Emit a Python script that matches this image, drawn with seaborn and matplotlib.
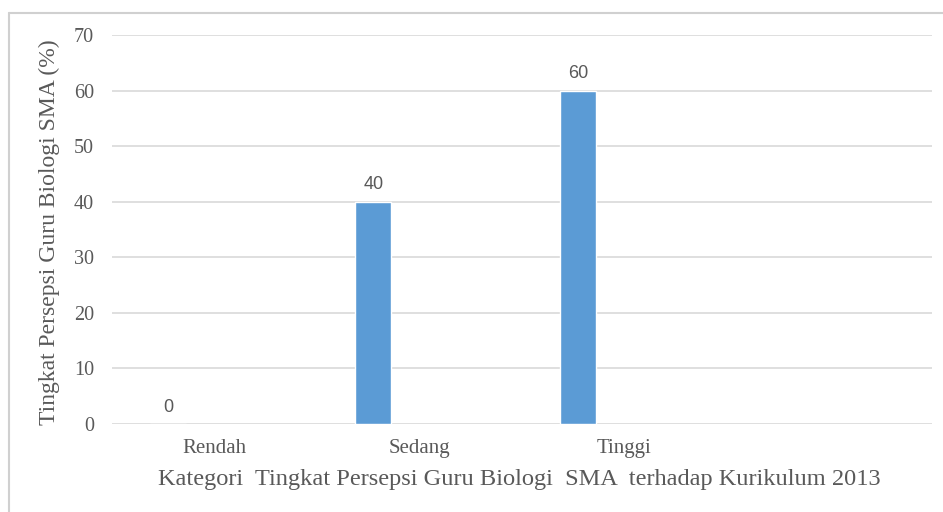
import numpy as np
import pandas as pd

import seaborn as sns
from matplotlib import pyplot as plt
from matplotlib.lines import Line2D

KATEGORI = ["Rendah", "Sedang", "Tinggi", ""]
PERSEN = [0, 40, 60, np.nan]
SERI = ["Persentase", "Kosong"]
Y_TICKS = [0, 10, 20, 30, 40, 50, 60, 70]

BLUE = "#5B9BD5"
GREY_TXT = "#595959"


def plot():
    sns.set_theme(style="white")
    plt.rcParams["font.family"] = ["Liberation Serif", "DejaVu Serif"]

    tab = pd.DataFrame(
        {
            "Kategori": KATEGORI + KATEGORI,
            "Nilai": PERSEN + [np.nan] * len(KATEGORI),
            "Seri": [SERI[0]] * len(KATEGORI) + [SERI[1]] * len(KATEGORI),
        }
    )

    f = plt.figure(figsize=(9.43, 5.12), dpi=100)
    ax = f.add_axes([0.1188, 0.1719, 0.8695, 0.7597])

    sns.barplot(
        data=tab,
        x="Kategori",
        y="Nilai",
        hue="Seri",
        order=KATEGORI,
        hue_order=SERI,
        palette=[BLUE, BLUE],
        width=0.9,
        gap=0.61,
        dodge=True,
        legend=False,
        saturation=1,
        ax=ax,
    )

    # data labels for the first series
    for bar in ax.containers[0]:
        if bar is None:
            continue
        h = bar.get_height()
        if np.isnan(h):
            continue
        ax.annotate(
            f"{h:.0f}",
            (bar.get_x() + bar.get_width() / 2, h),
            xytext=(0, 6),
            textcoords="offset points",
            ha="center",
            va="bottom",
            fontsize=13,
            color=GREY_TXT,
            family=["Liberation Sans", "DejaVu Sans"],
        )

    ax.set_xlim(-0.5, len(KATEGORI) - 0.5)
    ax.set_ylim(0, 70)
    ax.set_yticks(Y_TICKS)
    ax.yaxis.grid(True, color="#D9D9D9", linewidth=1.2)
    ax.set_axisbelow(True)
    sns.despine(ax=ax, left=True, bottom=True)
    ax.tick_params(axis="y", length=0, pad=13, labelsize=14.5, labelcolor=GREY_TXT)
    ax.tick_params(axis="x", length=0, pad=11, labelsize=15, labelcolor=GREY_TXT)

    ax.set_xlabel(
        "Kategori  Tingkat Persepsi Guru Biologi  SMA  terhadap Kurikulum 2013",
        fontsize=17.6,
        color=GREY_TXT,
    )
    ax.set_ylabel("Tingkat Persepsi Guru Biologi SMA (%)", fontsize=17, color=GREY_TXT)
    ax.xaxis.set_label_coords(0.497, -0.117)
    ax.yaxis.set_label_coords(-0.064, 0.492)

    # chart area frame
    f.add_artist(Line2D([8.5 / 943, 1], [1 - 13 / 512, 1 - 13 / 512], color="#D0D0D0", lw=1.5))
    f.add_artist(Line2D([9 / 943, 9 / 943], [0, 1 - 13 / 512], color="#D0D0D0", lw=1.5))

    f.savefig("out.png", dpi=100)
    plt.close(f)


if __name__ == "__main__":
    plot()
